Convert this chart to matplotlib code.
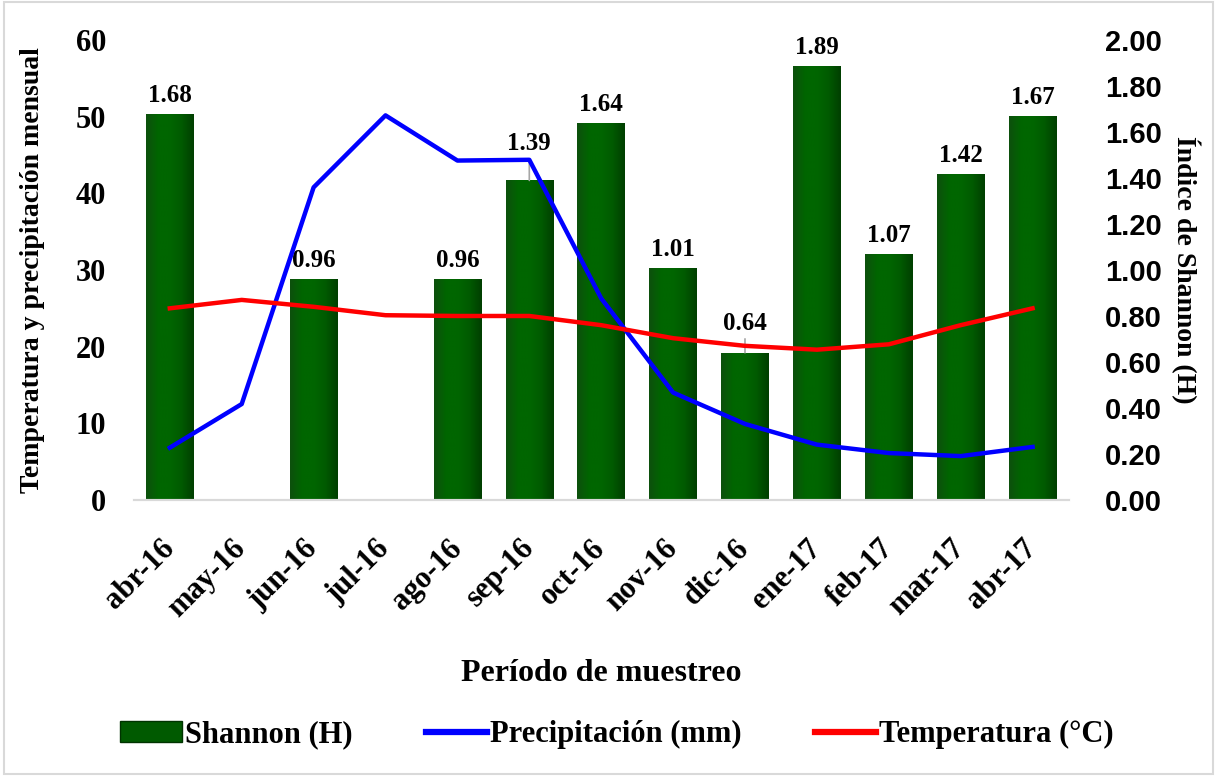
import numpy as np
import matplotlib
matplotlib.use("Agg")
import matplotlib.pyplot as plt
from matplotlib.patches import Patch, Rectangle
from matplotlib.lines import Line2D
from matplotlib.colors import LinearSegmentedColormap

# monthly sampling periods
meses = ['abr-16', 'may-16', 'jun-16', 'jul-16', 'ago-16', 'sep-16', 'oct-16',
         'nov-16', 'dic-16', 'ene-17', 'feb-17', 'mar-17', 'abr-17']

# Shannon diversity index (no sampling in may-16 and jul-16)
shannon = [1.68, np.nan, 0.96, np.nan, 0.96, 1.39, 1.64, 1.01, 0.64, 1.89, 1.07, 1.42, 1.67]

# monthly precipitation (mm) and mean temperature (°C)
precipitacion = [6.8, 12.5, 40.8, 50.2, 44.3, 44.4, 26.3, 14.0, 9.9, 7.2, 6.1, 5.7, 6.9]
temperatura = [25.0, 26.1, 25.2, 24.1, 24.0, 24.0, 22.8, 21.1, 20.1, 19.6, 20.3, 22.8, 25.0]

serif = 'Liberation Serif'
sans = 'Liberation Sans'

fig = plt.figure(figsize=(12.17, 7.76), dpi=100)
ax = fig.add_axes([0.110, 0.356, 0.768, 0.592])
ax2 = ax.twinx()

x = np.arange(len(meses))

# bars go on the right axis, behind the lines
bars = ax2.bar(x, shannon, width=0.66, color='#006400', edgecolor='none', zorder=2)
grad = np.linspace(0, 1, 64)[None, :]
cmap = LinearSegmentedColormap.from_list('bevel', ['#0d500d', '#006600', '#006600',
                                                   '#005a00', '#003f00'])
for b, v in zip(bars, shannon):
    if np.isnan(v):
        continue
    x0, w = b.get_x(), b.get_width()
    im = ax2.imshow(grad, extent=[x0, x0 + w, 0, v], aspect='auto', cmap=cmap,
                    zorder=2.5, interpolation='bicubic')
    im.set_clip_path(b)

# value labels above each bar; two of them were moved up with a leader line
moved = {5: 13, 8: 8}
for i, v in enumerate(shannon):
    if np.isnan(v):
        continue
    dy = moved.get(i, 0)
    ax2.annotate(f'{v:.2f}', (x[i], v), xytext=(0, 5 + dy), textcoords='offset points',
                 ha='center', va='bottom', fontsize=18, fontweight='bold', family=serif,
                 zorder=5)
    if dy:
        ax2.annotate('', (x[i], v), xytext=(0, dy + 2), textcoords='offset points',
                     arrowprops=dict(arrowstyle='-', color='#a6a6a6', lw=1.2,
                                     shrinkA=0, shrinkB=0))

ax2.set_ylim(0, 2)
ax2.set_yticks(np.arange(0, 2.01, 0.2))
ax2.set_yticklabels([f'{t:.2f}' for t in np.arange(0, 2.01, 0.2)],
                    fontsize=21, fontweight='bold', family=sans)
ax2.set_ylabel('Índice de Shannon (H)', rotation=-90, fontsize=20, fontweight='bold',
               family=serif, labelpad=28)

# lines on the left axis, drawn above the bars
ax.set_zorder(ax2.get_zorder() + 1)
ax.patch.set_visible(False)
ax.plot(x, precipitacion, color='#0000ff', lw=3.2, solid_joinstyle='round', zorder=4)
ax.plot(x, temperatura, color='#ff0000', lw=3.2, solid_joinstyle='round', zorder=4)

ax.set_xlim(-0.5, len(meses) - 0.5)
ax.set_ylim(0, 60)
ax.set_yticks(range(0, 61, 10))
ax.set_yticklabels([str(t) for t in range(0, 61, 10)], fontsize=22, fontweight='bold',
                   family=serif)
ax.set_xticks(x)
ax.set_xticklabels(meses, rotation=45, ha='right', va='center', rotation_mode='anchor',
                   fontsize=22, fontweight='bold', family=serif)
ax.set_ylabel('Temperatura y precipitación mensual', fontsize=20, fontweight='bold',
              family=serif, labelpad=22)
ax.set_xlabel('Período de muestreo', fontsize=23, fontweight='bold', family=serif,
              labelpad=26)

for a in (ax, ax2):
    for side in ('top', 'left', 'right'):
        a.spines[side].set_visible(False)
    a.spines['bottom'].set_color('#d9d9d9')
    a.spines['bottom'].set_linewidth(1.5)
    a.tick_params(length=0)
ax.tick_params(axis='y', pad=20)
ax.tick_params(axis='x', pad=32)
ax2.tick_params(axis='y', pad=26)

handles = [Patch(facecolor='#005a00', edgecolor='#003300'),
           Line2D([], [], color='#0000ff', lw=4.5),
           Line2D([], [], color='#ff0000', lw=4.5)]
labels = ['Shannon (H)', 'Precipitación (mm)', 'Temperatura (°C)']
fig.legend(handles, labels, loc='center', bbox_to_anchor=(0.507, 0.053), ncol=3,
           frameon=False, handlelength=2.0, handletextpad=0.1, columnspacing=2.4,
           prop={'family': serif, 'weight': 'bold', 'size': 22})

# light frame around the chart area
fig.patches.append(Rectangle((0.003, 0.002), 0.994, 0.996, transform=fig.transFigure,
                             fill=False, edgecolor='#d9d9d9', lw=1.5))

fig.savefig('out.png', dpi=100)
